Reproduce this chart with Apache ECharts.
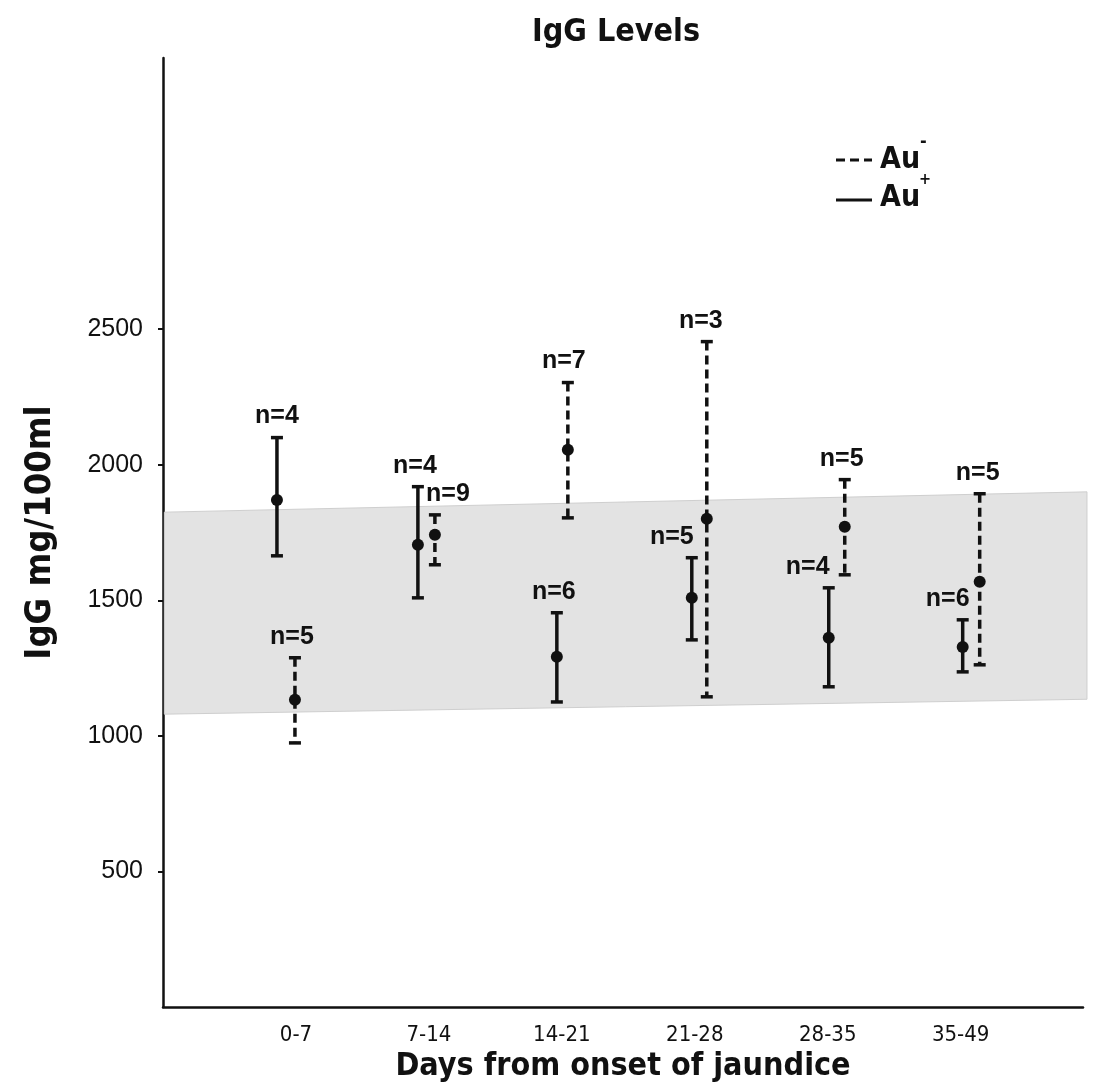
<!DOCTYPE html>
<html>
<head>
<meta charset="utf-8">
<script src="https://cdn.jsdelivr.net/npm/echarts@6/dist/echarts.min.js"></script>
<style>html,body{margin:0;padding:0;background:#fff;}#c{width:1093px;height:1089px;}</style>
</head>
<body>
<div id="c"></div>
<script>
// ---- data ----
const categories = ['0-7', '7-14', '14-21', '21-28', '28-35', '35-49'];
const yTicks = [500, 1000, 1500, 2000, 2500];
// Au+ (solid)
const auPlusMean = [1870, 1705, 1292, 1509, 1362, 1328];
const auPlusLow  = [1664, 1509, 1125, 1354, 1181, 1236];
const auPlusHigh = [2100, 1919, 1454, 1657, 1546, 1428];
const auPlusN    = ['n=4', 'n=4', 'n=6', 'n=5', 'n=4', 'n=6'];
// Au- (dashed)
const auMinusMean = [1133, 1742, 2055, 1801, 1771, 1568];
const auMinusLow  = [974, 1631, 1804, 1144, 1594, 1262];
const auMinusHigh = [1288, 1815, 2303, 2454, 1945, 1893];
const auMinusN    = ['n=5', 'n=9', 'n=7', 'n=3', 'n=5', 'n=5'];
// normal range band (lower, upper) at left and right edge
const normalLeft  = [1080, 1825];
const normalRight = [1135, 1900];

// ---- styles (pixel offsets) ----
const plusDx  = [-19, -11, -5, -3, 1, 2];
const minusDx = [-1, 6, 6, 12, 17, 19];
const plusLabelDx  = [0, -3, -3, -20, -21, -15];
const minusLabelDx = [-3, 13, -4, -6, -3, -2];

const condensed = '"Liberation Sans Narrow","DejaVu Sans Condensed","Roboto Condensed",sans-serif';
const sans = '"Liberation Sans",Arial,sans-serif';

const chart = echarts.init(document.getElementById('c'));

function errRender(means, lows, highs, labels, dxs, ldxs, dashed) {
  return function (params, api) {
    const i = params.dataIndex;
    const x = i + 1;
    const pM = api.coord([x, means[i]]);
    const pL = api.coord([x, lows[i]]);
    const pH = api.coord([x, highs[i]]);
    const cx = pM[0] + dxs[i];
    const lineStyle = { stroke: '#111', lineWidth: 3.5, lineDash: dashed ? [9, 5] : null };
    const capStyle = { stroke: '#111', lineWidth: 3.5 };
    return {
      type: 'group',
      children: [
        { type: 'line', shape: { x1: cx, y1: pH[1], x2: cx, y2: pL[1] }, style: lineStyle },
        { type: 'line', shape: { x1: cx - 6, y1: pH[1], x2: cx + 6, y2: pH[1] }, style: capStyle },
        { type: 'line', shape: { x1: cx - 6, y1: pL[1], x2: cx + 6, y2: pL[1] }, style: capStyle },
        { type: 'circle', shape: { cx: cx, cy: pM[1], r: 6 }, style: { fill: '#111' } },
        { type: 'text', x: cx + ldxs[i], y: pH[1] - 21,
          style: { text: labels[i], fill: '#111', font: 'bold 25px ' + sans, align: 'center', verticalAlign: 'middle' } }
      ]
    };
  };
}

const idx = categories.map((c, i) => [i + 1, auPlusMean[i]]);
const idx2 = categories.map((c, i) => [i + 1, auMinusMean[i]]);

chart.setOption({
  animation: false,
  backgroundColor: '#fff',
  title: {
    text: 'IgG Levels', left: 611, top: 12, textAlign: 'center',
    textStyle: { fontFamily: condensed, fontSize: 32, fontWeight: 'bold', color: '#111' }
  },
  grid: { left: 163, width: 920, top: 58, height: 949, containLabel: false, outerBoundsMode: 'none' },
  xAxis: {
    type: 'value', min: 0, max: 6.92,
    axisLine: { show: true, onZero: false, lineStyle: { color: '#111', width: 2.5 } },
    axisTick: { show: false },
    splitLine: { show: false },
    axisLabel: {
      customValues: [1, 2, 3, 4, 5, 6],
      formatter: v => categories[Math.round(v) - 1] || '',
      color: '#111', fontFamily: condensed, fontSize: 22, margin: 17
    },
    name: 'Days from onset of jaundice', nameLocation: 'middle', nameGap: 44,
    nameTextStyle: { fontFamily: condensed, fontSize: 32, fontWeight: 'bold', color: '#111' }
  },
  yAxis: {
    type: 'value', min: 0, max: 3500, interval: 500,
    axisLine: { show: true, lineStyle: { color: '#111', width: 2.5 } },
    axisTick: { show: true, customValues: yTicks, length: 5, lineStyle: { color: '#111', width: 2 } },
    splitLine: { show: false },
    axisLabel: {
      customValues: yTicks, formatter: v => String(v),
      color: '#111', fontFamily: sans, fontSize: 25, margin: 20
    },
    name: 'IgG mg/100ml', nameLocation: 'middle', nameGap: 104, nameRotate: 90,
    nameTextStyle: { fontFamily: condensed, fontSize: 36, fontWeight: 'bold', color: '#111' }
  },
  series: [
    {
      type: 'custom', name: 'normal', data: [[0, normalLeft[0]]], silent: true, z: 1,
      renderItem: function (params, api) {
        const a = api.coord([0.01, normalLeft[0]]);
        const b = api.coord([6.95, normalRight[0]]);
        const c = api.coord([6.95, normalRight[1]]);
        const d = api.coord([0.01, normalLeft[1]]);
        return { type: 'polygon', shape: { points: [a, b, c, d] }, style: { fill: '#e3e3e3', stroke: '#cfcfcf', lineWidth: 1 } };
      }
    },
    { type: 'custom', name: 'Au+', data: idx, z: 3,
      renderItem: errRender(auPlusMean, auPlusLow, auPlusHigh, auPlusN, plusDx, plusLabelDx, false) },
    { type: 'custom', name: 'Au-', data: idx2, z: 3,
      renderItem: errRender(auMinusMean, auMinusLow, auMinusHigh, auMinusN, minusDx, minusLabelDx, true) }
  ],
  graphic: [
    { type: 'line', shape: { x1: 836, y1: 160, x2: 872, y2: 160 }, style: { stroke: '#111', lineWidth: 3, lineDash: [9, 5] } },
    { type: 'text', x: 880, y: 160, style: { text: 'Au', font: 'bold 30px ' + condensed, fill: '#111', verticalAlign: 'middle' } },
    { type: 'text', x: 920, y: 142, style: { text: '-', font: 'bold 18px ' + condensed, fill: '#111', verticalAlign: 'middle' } },
    { type: 'line', shape: { x1: 836, y1: 200, x2: 872, y2: 200 }, style: { stroke: '#111', lineWidth: 3 } },
    { type: 'text', x: 880, y: 198, style: { text: 'Au', font: 'bold 30px ' + condensed, fill: '#111', verticalAlign: 'middle' } },
    { type: 'text', x: 919, y: 180, style: { text: '+', font: 'bold 16px ' + condensed, fill: '#111', verticalAlign: 'middle' } }
  ]
});
</script>
</body>
</html>
